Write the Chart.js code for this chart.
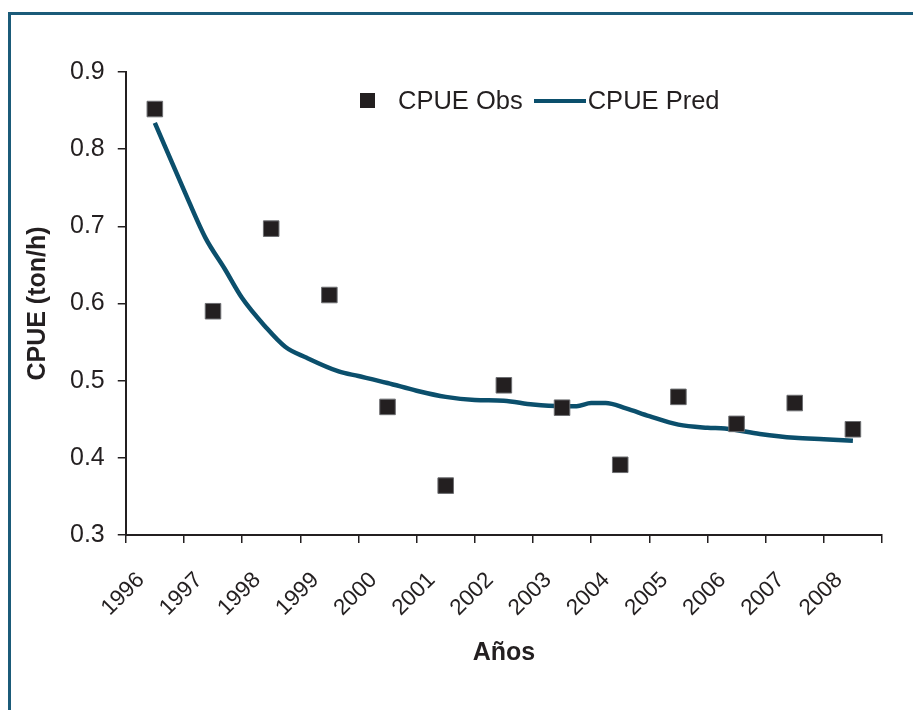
<!DOCTYPE html>
<html>
<head>
<meta charset="utf-8">
<script src="https://cdn.jsdelivr.net/npm/chart.js@4/dist/chart.umd.min.js"></script>
<style>
  body { margin: 0; background: #fff; }
  #wrap { position: relative; width: 913px; height: 710px; overflow: hidden; }
  #frame { position: absolute; left: 8px; top: 12px; width: 1000px; height: 1000px;
           border-left: 3px solid #1b5b79; border-top: 3px solid #1b5b79; pointer-events: none; }
  #legend { position: absolute; left: 360px; top: 86px; display: flex; align-items: center;
            font-family: "Liberation Sans", Arial, sans-serif; font-size: 25.5px; color: #231f20; }
  .sq { width: 15px; height: 15px; background: #231f20; margin-right: 23px; }
  .ln { width: 52px; height: 4px; background: #0b4f6c; margin: 0 2px 0 11px; }
</style>
</head>
<body>
<div id="wrap">
  <canvas id="cpue-chart" width="913" height="710"></canvas>
  <div id="frame"></div>
  <div id="legend">
    <span class="sq"></span><span>CPUE Obs</span><span class="ln"></span><span>CPUE Pred</span>
  </div>
</div>
<script>
/* observed CPUE, one value per year */
const years = ['1996', '1997', '1998', '1999', '2000', '2001', '2002',
               '2003', '2004', '2005', '2006', '2007', '2008'];
const obsValues = [0.852, 0.590, 0.697, 0.611, 0.466, 0.364, 0.494,
                   0.465, 0.391, 0.479, 0.444, 0.471, 0.437];

/* predicted CPUE curve (time in fractional years, mid-year = .5) */
const predTimes = [1996.5, 1997.0, 1997.37, 1997.7, 1998.0, 1998.4, 1998.74, 1999.1,
                   1999.66, 2000.0, 2000.5, 2001.0, 2001.5, 2002.0, 2002.5, 2003.0,
                   2003.5, 2003.75, 2004.0, 2004.25, 2004.6, 2005.0, 2005.5, 2006.0,
                   2006.3, 2006.9, 2007.5, 2008.0, 2008.5];
const predValues = [0.834, 0.747, 0.685, 0.645, 0.607, 0.570, 0.544, 0.530,
                    0.512, 0.506, 0.497, 0.487, 0.479, 0.475, 0.474, 0.469,
                    0.467, 0.467, 0.471, 0.471, 0.464, 0.454, 0.443, 0.439,
                    0.438, 0.431, 0.426, 0.424, 0.422];

const yTicks = [0.3, 0.4, 0.5, 0.6, 0.7, 0.8, 0.9];

const ink = '#231f20';
const teal = '#0b4f6c';
const font = "'Liberation Sans', Arial, sans-serif";

function initCpueChart() {
    var ctx = document.getElementById('cpue-chart');
    return new Chart(ctx, {
        type: 'line',
        data: {
            labels: years,
            datasets: [{
                label: 'CPUE Obs',
                data: obsValues,
                xAxisID: 'x',
                showLine: false,
                pointStyle: 'rect',
                pointRadius: 11,
                pointHoverRadius: 11,
                pointBackgroundColor: ink,
                pointBorderColor: '#6d6e71',
                pointBorderWidth: 1
            }, {
                label: 'CPUE Pred',
                data: predTimes.map((t, i) => ({x: t, y: predValues[i]})),
                xAxisID: 'xp',
                borderColor: teal,
                borderWidth: 4.5,
                pointRadius: 0,
                tension: 0.4,
                cubicInterpolationMode: 'monotone'
            }]
        },
        options: {
            responsive: false,
            animation: false,
            layout: { padding: { left: 19, right: 31, top: 72, bottom: 38 } },
            plugins: { legend: { display: false }, tooltip: { enabled: false } },
            scales: {
                x: {
                    type: 'category',
                    offset: true,
                    afterFit: (s) => { s.height = 137; },
                    grid: { offset: true, drawOnChartArea: false, tickLength: 8, color: ink, lineWidth: 1.5 },
                    border: { display: true, color: ink, width: 2 },
                    ticks: {
                        color: ink, font: { family: font, size: 22.5 },
                        minRotation: 45, maxRotation: 45, labelOffset: -14, padding: 24
                    },
                    title: { display: true, text: 'Años', color: ink, padding: { top: 7 },
                             font: { family: font, size: 25, weight: 'bold' } }
                },
                xp: {
                    type: 'linear',
                    display: false,
                    min: 1996,
                    max: 2009
                },
                y: {
                    min: 0.3,
                    max: 0.9,
                    afterBuildTicks: (s) => { s.ticks = yTicks.map(v => ({value: v})); },
                    grid: { drawOnChartArea: false, tickLength: 8, color: ink, lineWidth: 1.5 },
                    border: { display: true, color: ink, width: 2 },
                    ticks: {
                        color: ink, font: { family: font, size: 25 }, padding: 13,
                        callback: (v) => v.toFixed(1)
                    },
                    title: { display: true, text: 'CPUE (ton/h)', color: ink, padding: { bottom: 4 },
                             font: { family: font, size: 25, weight: 'bold' } }
                }
            }
        }
    });
}

var cpueChart = initCpueChart();
</script>
</body>
</html>
